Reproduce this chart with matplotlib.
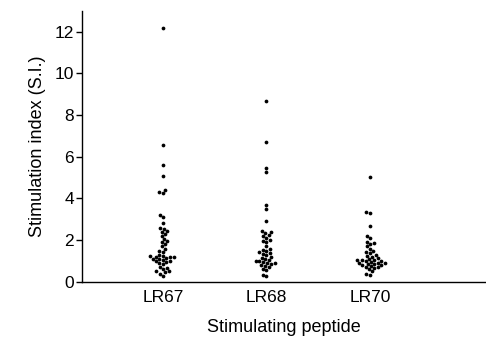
import matplotlib
matplotlib.use("Agg")
import matplotlib.pyplot as plt
import seaborn as sns
import pandas as pd

plt.rcParams['font.family'] = ['Liberation Sans', 'DejaVu Sans']

peptides = ["LR67", "LR68", "LR70"]

lr67 = [12.2, 6.55, 5.6, 5.1, 4.4, 4.3, 4.25, 3.2, 3.1, 2.8, 2.6, 2.55, 2.45,
        2.4, 2.3, 2.2, 2.05, 1.95, 1.9, 1.8, 1.7, 1.6, 1.5, 1.45, 1.3, 1.25,
        1.25, 1.2, 1.2, 1.2, 1.15, 1.1, 1.1, 1.05, 1.0, 1.0, 0.95, 0.9, 0.85,
        0.7, 0.65, 0.6, 0.5, 0.5, 0.45, 0.4, 0.3]
lr68 = [8.7, 6.7, 5.45, 5.25, 3.7, 3.5, 2.9, 2.45, 2.4, 2.35, 2.25, 2.2, 2.1,
        2.0, 1.95, 1.9, 1.7, 1.6, 1.55, 1.5, 1.45, 1.4, 1.35, 1.3, 1.2, 1.15,
        1.1, 1.05, 1.0, 1.0, 0.95, 0.9, 0.9, 0.85, 0.8, 0.75, 0.7, 0.6, 0.55,
        0.35, 0.3]
lr70 = [5.05, 3.35, 3.3, 2.7, 2.2, 2.1, 1.9, 1.85, 1.8, 1.7, 1.6, 1.5, 1.45,
        1.4, 1.3, 1.25, 1.2, 1.15, 1.1, 1.05, 1.05, 1.05, 1.0, 1.0, 0.95,
        0.9, 0.9, 0.9, 0.85, 0.85, 0.8, 0.8, 0.75, 0.7, 0.7, 0.65, 0.6, 0.5,
        0.4, 0.35]

df = pd.DataFrame({
    "peptide": ["LR67"] * len(lr67) + ["LR68"] * len(lr68) + ["LR70"] * len(lr70),
    "si": lr67 + lr68 + lr70,
})

fig = plt.figure(figsize=(4.86, 3.4), dpi=100)
ax = fig.add_axes([0.169, 0.171, 0.829, 0.797])

sns.swarmplot(data=df, x="peptide", y="si", order=peptides, color="black",
              size=2.7, ax=ax)

ax.set_xlim(-0.78, 3.11)
ax.set_ylim(0, 13)
ax.set_yticks([0, 2, 4, 6, 8, 10, 12])
ax.spines['top'].set_visible(False)
ax.spines['right'].set_visible(False)
ax.spines['left'].set_linewidth(1.0)
ax.spines['bottom'].set_linewidth(1.0)
ax.tick_params(axis='y', length=4, width=1, labelsize=12.5, pad=2)
ax.tick_params(axis='x', length=0, labelsize=12.5, pad=6)
ax.set_xlabel("Stimulating peptide", fontsize=13, labelpad=10)
ax.set_ylabel("Stimulation index (S.I.)", fontsize=13, labelpad=6)

fig.savefig("out.png", dpi=100)
